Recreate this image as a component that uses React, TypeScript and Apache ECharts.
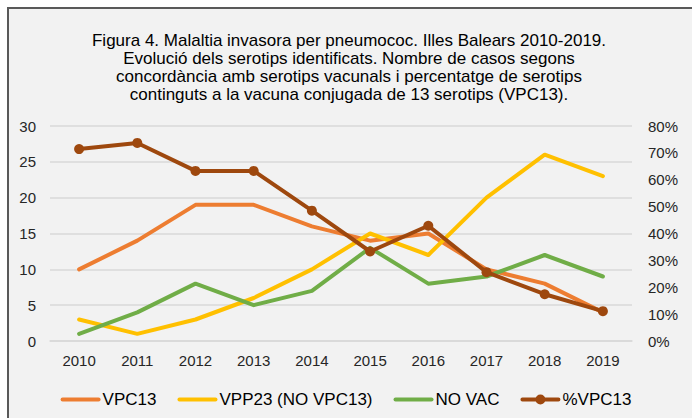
import React, { useEffect, useRef } from "react";
import * as echarts from "echarts";

const years = ["2010", "2011", "2012", "2013", "2014", "2015", "2016", "2017", "2018", "2019"];
const vpc13 = [10, 14, 19, 19, 16, 14, 15, 10, 8, 4];
const vpp23 = [3, 1, 3, 6, 10, 15, 12, 20, 26, 23];
const noVac = [1, 4, 8, 5, 7, 13, 8, 9, 12, 9];
const pctVpc13 = [71.4, 73.7, 63.3, 63.3, 48.5, 33.3, 42.9, 25.6, 17.4, 11.1];

const titleText =
  "Figura 4. Malaltia invasora per pneumococ. Illes Balears 2010-2019.\n" +
  "Evolució dels serotips identificats. Nombre de casos segons\n" +
  "concordància amb serotips vacunals i percentatge de serotips\n" +
  "continguts a la vacuna conjugada de 13 serotips (VPC13).";

const FONT = "Liberation Sans, Arial, sans-serif";
const LINE_ICON = "path://M2,0 L38,0 A2,2 0 0,1 38,4 L2,4 A2,2 0 0,1 2,0 Z";
const DOT_ICON =
  "path://M2,3 L15.6,3 L15.6,7 L2,7 A2,2 0 0,1 2,3 Z M24.4,3 L38,3 A2,2 0 0,1 38,7 L24.4,7 Z M15,5 A5,5 0 1,1 25,5 A5,5 0 1,1 15,5 Z";

export default function App() {
  const ref = useRef<HTMLDivElement>(null);
  useEffect(() => {
    if (!ref.current) return;
    const chart = echarts.init(ref.current, null, { renderer: "svg" });
    const lineSeries = (name: string, data: number[], color: string) => ({
      name,
      type: "line",
      data,
      yAxisIndex: 0,
      symbol: "none",
      lineStyle: { color, width: 4, cap: "round", join: "round" },
      itemStyle: { color },
      z: 2,
    });
    chart.setOption({
      animation: false,
      backgroundColor: "transparent",
      textStyle: { fontFamily: FONT },
      title: {
        text: titleText,
        left: 344,
        top: 26,
        textAlign: "center",
        textStyle: {
          fontFamily: FONT,
          fontSize: 17,
          fontWeight: "normal",
          color: "#000000",
          lineHeight: 18,
        },
      },
      grid: { left: 50, right: 60, top: 126, bottom: 77, containLabel: false },
      legend: {
        bottom: 5,
        left: "center",
        itemWidth: 40,
        itemHeight: 10,
        itemGap: 21,
        textStyle: { fontFamily: FONT, fontSize: 17, color: "#000000", padding: [0, 0, 0, -3] },
        data: [
          { name: "VPC13", icon: LINE_ICON },
          { name: "VPP23 (NO VPC13)", icon: LINE_ICON },
          { name: "NO VAC", icon: LINE_ICON },
          { name: "%VPC13", icon: DOT_ICON },
        ],
      },
      xAxis: {
        type: "category",
        data: years,
        boundaryGap: true,
        axisLine: { lineStyle: { color: "#d9d9d9", width: 1.5 } },
        axisTick: { show: false },
        axisLabel: { fontFamily: FONT, fontSize: 15, color: "#262626", margin: 12 },
      },
      yAxis: [
        {
          type: "value",
          min: 0,
          max: 30,
          interval: 5,
          axisLine: { show: false },
          axisTick: { show: false },
          splitLine: { lineStyle: { color: "#d9d9d9", width: 1.5 } },
          axisLabel: { fontFamily: FONT, fontSize: 15, color: "#262626", margin: 14 },
        },
        {
          type: "value",
          min: 0,
          max: 80,
          interval: 10,
          position: "right",
          axisLine: { show: false },
          axisTick: { show: false },
          splitLine: { show: false },
          axisLabel: {
            fontFamily: FONT,
            fontSize: 15,
            color: "#262626",
            margin: 16,
            formatter: "{value}%",
          },
        },
      ],
      series: [
        lineSeries("VPC13", vpc13, "#ED7D31"),
        lineSeries("VPP23 (NO VPC13)", vpp23, "#FFC000"),
        lineSeries("NO VAC", noVac, "#70AD47"),
        {
          name: "%VPC13",
          type: "line",
          data: pctVpc13,
          yAxisIndex: 1,
          symbol: "circle",
          symbolSize: 10,
          lineStyle: { color: "#9E480E", width: 4, cap: "round", join: "round" },
          itemStyle: { color: "#9E480E" },
          z: 3,
        },
      ],
    });
    return () => chart.dispose();
  }, []);
  return (
    <div
      style={{
        position: "fixed",
        left: 0,
        top: 0,
        width: 692,
        height: 418,
        background: "#ffffff",
        overflow: "hidden",
      }}
    >
      <div
        style={{
          position: "absolute",
          left: 7,
          top: 7,
          width: 720,
          height: 450,
          background: "#f2f2f2",
          borderLeft: "2px solid #595959",
          borderTop: "2px solid #595959",
          boxSizing: "border-box",
        }}
      />
      <div
        ref={ref}
        style={{ position: "absolute", left: 0, top: 0, width: 692, height: 418 }}
      />
    </div>
  );
}
